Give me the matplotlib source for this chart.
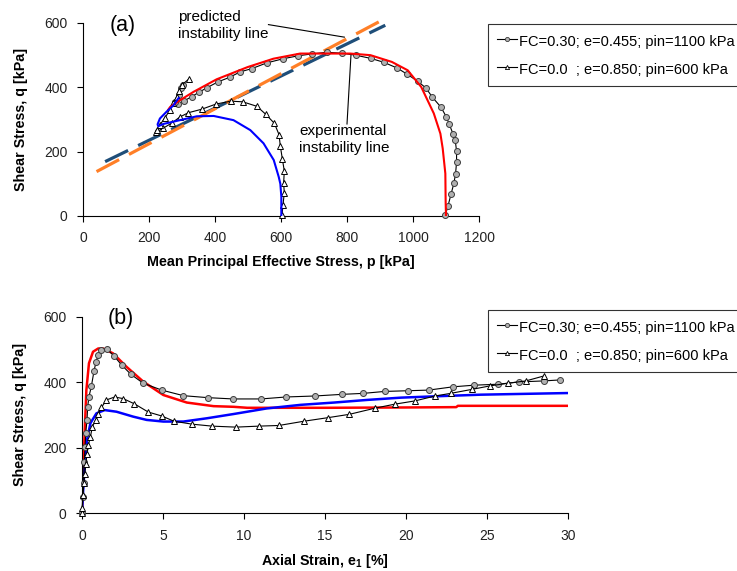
import numpy as np
import matplotlib.pyplot as plt
from matplotlib.lines import Line2D

plt.rcParams['font.family'] = ['Liberation Sans', 'DejaVu Sans']
plt.rcParams['mathtext.fontset'] = 'custom'
plt.rcParams['mathtext.rm'] = 'Liberation Sans'

# ---- panel (a): stress paths p-q
# experimental, FC=0.30 (circles)
circ_p = [1098, 1106, 1115, 1124, 1129, 1132, 1132, 1128, 1121, 1110, 1101, 1085, 1059, 1039,
          1014, 982, 952, 911, 872, 826, 785, 739, 694, 652, 607, 557, 511, 476, 444, 409,
          376, 352, 329, 305, 287, 279, 291, 296, 303]
circ_q = [3, 31, 67, 102, 132, 167, 202, 235, 256, 285, 308, 338, 369, 398,
          419, 441, 460, 478, 490, 500, 506, 509, 504, 498, 489, 476, 458, 448, 431, 417,
          399, 385, 371, 357, 348, 355, 376, 398, 407]
# experimental, FC=0.0 (triangles)
tri_p = [603, 606, 610, 608, 610, 604, 598, 594, 580, 554, 527, 484, 448, 403, 360,
         319, 294, 269, 243, 220, 223, 233, 248, 264, 273, 284, 291, 299, 321]
tri_q = [3, 34, 72, 102, 140, 178, 217, 253, 288, 316, 341, 355, 357, 348, 332,
         321, 308, 289, 273, 260, 267, 283, 305, 330, 351, 371, 390, 407, 426]
# predicted
red_p = [1100, 1099, 1098, 1090, 1083, 1063, 1025, 984, 936, 871, 810, 759, 658, 577,
         499, 405, 335, 294, 264, 258]
red_q = [0, 40, 132, 210, 256, 319, 401, 453, 479, 500, 505, 505, 505, 489,
         463, 425, 386, 360, 339, 330]
blue_p = [601, 601, 598, 593, 578, 547, 507, 456, 396, 345, 294, 243, 228, 226,
          233, 253, 274, 285, 290]
blue_q = [0, 60, 100, 122, 174, 226, 267, 298, 311, 310, 298, 286, 279, 285,
          303, 324, 344, 360, 367]
# instability lines
pred_line_p = [41, 901]
pred_line_q = [138, 606]
exp_line_p = [67, 916]
exp_line_q = [169, 593]

# ---- panel (b): q vs axial strain
circ_e = [0, 0.04, 0.1, 0.14, 0.19, 0.23, 0.31, 0.35, 0.43, 0.58, 0.74, 0.87, 1.0, 1.2,
          1.55, 1.96, 2.44, 3.02, 3.78, 4.92, 6.26, 7.75, 9.32, 11.05, 12.6, 14.36, 16.05,
          17.36, 18.7, 20.1, 21.4, 22.9, 24.2, 25.7, 27.0, 28.5, 29.5]
circ_q2 = [0, 51, 92, 158, 203, 244, 285, 325, 356, 388, 434, 463, 483, 498,
           501, 481, 453, 424, 397, 376, 359, 353, 349, 349, 355, 358, 363,
           366, 372, 374, 376, 386, 391, 394, 401, 404, 407]
tri_e = [0, 0.02, 0.06, 0.12, 0.17, 0.23, 0.31, 0.39, 0.52, 0.64, 0.85, 1.0, 1.2, 1.51,
         2.02, 2.54, 3.24, 4.09, 4.92, 5.68, 6.8, 8.04, 9.5, 10.9, 12.15, 13.7, 15.2,
         16.5, 18.1, 19.3, 20.55, 21.8, 22.75, 24.05, 25.2, 26.3, 27.4, 28.5]
tri_q2 = [0, 15, 56, 92, 119, 150, 181, 208, 234, 264, 285, 302, 323, 346,
          355, 350, 334, 309, 297, 281, 272, 266, 263, 266, 268, 281, 292,
          302, 321, 333, 343, 358, 366, 378, 389, 397, 404, 419]
red_e = [0, 0.06, 0.17, 0.27, 0.43, 0.68, 1.0, 1.3, 1.92, 2.75, 3.78, 5.02, 6.47, 8.12,
         9.36, 10.2, 11.4, 15, 20, 23.1, 23.2, 30]
red_q2 = [0, 102, 254, 376, 458, 493, 503, 503, 488, 447, 402, 361, 338, 327,
          325, 322, 322, 322, 323, 324, 328, 328]
blue_e = [0, 0.06, 0.17, 0.31, 0.52, 0.89, 1.4, 2.13, 3.16, 3.99, 5.02, 6.26, 7.71, 9.36,
          11.4, 13.5, 15.56, 17.6, 19.7, 21.8, 24.6, 30]
blue_q2 = [0, 61, 142, 224, 275, 305, 315, 310, 295, 285, 280, 280, 290, 303,
           320, 331, 338, 346, 353, 357, 362, 367]

labels = ['FC=0.30; e=0.455; pin=1100 kPa', 'FC=0.0  ; e=0.850; pin=600 kPa']

circ_style = dict(color='black', lw=0.8, marker='o', ms=4.3, mfc='#b0b0b0', mec='#3c3c3c', mew=0.7,
                  clip_on=False)
tri_style = dict(color='black', lw=0.8, marker='^', ms=4.6, mfc='white', mec='black', mew=0.7,
                 clip_on=False)


def style_axes(ax):
    ax.spines['top'].set_visible(False)
    ax.spines['right'].set_visible(False)
    ax.tick_params(direction='out', length=4, width=0.8, pad=7, labelsize=10, colors='black')
    for lab in ax.get_xticklabels() + ax.get_yticklabels():
        lab.set_color('#222222')


def add_legend(fig, y_top):
    hs = [Line2D([], [], color='black', lw=0.8, marker='o', ms=3.0, mfc='#b0b0b0', mec='#3c3c3c', mew=0.6),
          Line2D([], [], color='black', lw=0.8, marker='^', ms=3.0, mfc='white', mec='black', mew=0.6)]
    leg = fig.legend(hs, labels, loc='upper left', bbox_to_anchor=(488/737, y_top),
                     fontsize=10.5, frameon=True, fancybox=False, handlelength=1.4,
                     handleheight=1.4, handletextpad=0.15, labelspacing=0.75,
                     borderpad=0.6, borderaxespad=0)
    leg.get_frame().set_edgecolor('black')
    leg.get_frame().set_linewidth(0.8)


fig = plt.figure(figsize=(7.37, 5.71), dpi=100)

# ---- (a)
ax1 = fig.add_axes([83/737, 1-216/571, 396/737, 193/571])
ax1.plot(exp_line_p, exp_line_q, color='#1f4e79', lw=2.3, dashes=(8, 3.5), zorder=2, clip_on=False)
ax1.plot(pred_line_p, pred_line_q, color='#ff7f27', lw=2.3, dashes=(8, 3.5), zorder=2, clip_on=False)
ax1.plot(circ_p, circ_q, zorder=3, **circ_style)
ax1.plot(tri_p, tri_q, zorder=3, **tri_style)
ax1.plot(red_p, red_q, color='red', lw=1.5, zorder=4)
ax1.plot(blue_p, blue_q, color='blue', lw=1.5, zorder=4)
ax1.set_xlim(0, 1200)
ax1.set_ylim(0, 600)
ax1.set_xticks(np.arange(0, 1201, 200))
ax1.set_yticks(np.arange(0, 601, 200))
style_axes(ax1)
ax1.set_xlabel('Mean Principal Effective Stress, p [kPa]', fontsize=10.3, fontweight='bold', labelpad=7)
ax1.set_ylabel('Shear Stress, q [kPa]', fontsize=10.3, fontweight='bold', labelpad=12)
ax1.text(80, 592, '(a)', fontsize=15.5, va='center')
ax1.text(287, 640, 'predicted\ninstability line', fontsize=11, va='top', linespacing=1.25, clip_on=False)
ax1.plot([562, 792], [595, 556], color='black', lw=0.8, clip_on=False)
ax1.text(656, 285, 'experimental\ninstability line', fontsize=11, va='top', linespacing=1.25)
ax1.plot([800, 812], [286, 500], color='black', lw=0.8)
add_legend(fig, 1-24/571)

# ---- (b)
ax2 = fig.add_axes([82/737, 1-513.3/571, 486/737, 196.6/571])
ax2.plot(circ_e, circ_q2, zorder=3, **circ_style)
ax2.plot(tri_e, tri_q2, zorder=3, **tri_style)
ax2.plot(red_e, red_q2, color='red', lw=1.8, zorder=2)
ax2.plot(blue_e, blue_q2, color='blue', lw=1.8, zorder=2)
ax2.set_xlim(0, 30)
ax2.set_ylim(0, 600)
ax2.set_xticks(np.arange(0, 31, 5))
ax2.set_yticks(np.arange(0, 601, 200))
style_axes(ax2)
ax2.set_xlabel('Axial Strain, $\\mathregular{e_1}$ [%]', fontsize=10.3, fontweight='bold', labelpad=7)
ax2.set_ylabel('Shear Stress, q [kPa]', fontsize=10.3, fontweight='bold', labelpad=12)
ax2.text(1.6, 594, '(b)', fontsize=15.5, va='center')
add_legend(fig, 1-310/571)

fig.savefig('out.png', dpi=100)
